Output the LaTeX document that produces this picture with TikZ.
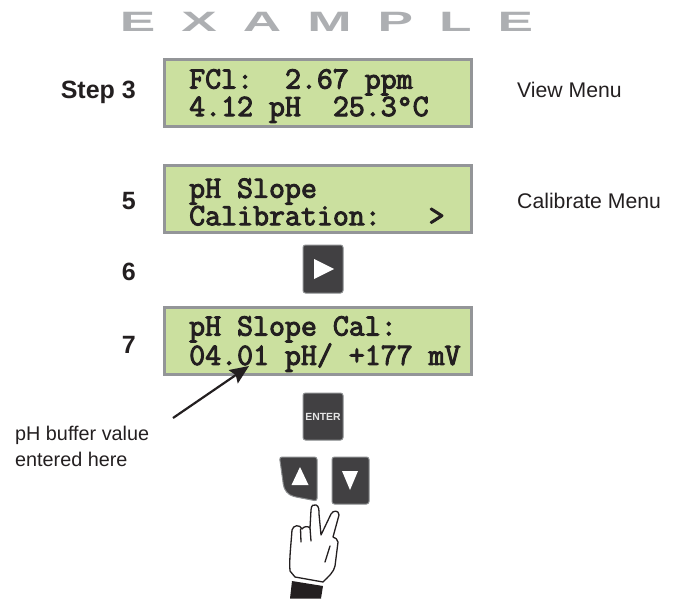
\documentclass[tikz,border=0pt]{standalone}
\usepackage{fontspec}
\setmainfont{Liberation Sans}
\setmonofont[FakeBold=3.2]{Latin Modern Mono}
\newfontfamily\examplefont[FakeStretch=1.9]{Liberation Sans Bold}
\usetikzlibrary{arrows.meta}
\definecolor{lcdgreen}{HTML}{CBE09F}
\definecolor{lcdedge}{HTML}{939598}
\definecolor{keyfill}{HTML}{414042}
\definecolor{keyedge}{HTML}{8A8C8E}
\definecolor{titlegray}{HTML}{ADAFB2}
\definecolor{inkblack}{HTML}{231F20}
\tikzset{
  lcdbox/.style={draw=lcdedge,fill=lcdgreen,line width=2.2pt,minimum width=307pt,minimum height=67pt,inner sep=0pt},
  lcdtext/.style={font=\fontsize{31pt}{27.5pt}\selectfont\ttfamily,text=inkblack,align=left,inner sep=0pt,anchor=west},
  stepnum/.style={font=\fontsize{25pt}{28pt}\selectfont\bfseries,text=inkblack,inner sep=0pt,anchor=base east},
  menulabel/.style={font=\fontsize{21.2pt}{25pt}\selectfont,text=inkblack,inner sep=0pt,anchor=base west},
  keyshape/.style={fill=keyfill,draw=keyedge,line width=1pt,rounded corners=2.5pt},
  keyglyph/.style={fill=white,draw=none},
  handline/.style={draw=inkblack,line width=1.3pt,line join=round,line cap=round}
}
\begin{document}
\begin{tikzpicture}[x=1pt,y=-1pt]
\useasboundingbox (0,0) rectangle (676,599);
\node[font=\fontsize{28pt}{30pt}\selectfont\examplefont,text=titlegray,inner sep=0pt,anchor=base] (title) at (326.5,32) {E\hspace{26pt}X\hspace{26pt}A\hspace{26pt}M\hspace{26pt}P\hspace{26pt}L\hspace{26pt}E};

\node[lcdbox] (lcd1) at (318,93) {};
\node[lcdbox] (lcd2) at (318,199) {};
\node[lcdbox] (lcd3) at (318,341) {};
\node[lcdtext] (t1) at (189,96) {FCl:\ \ 2.67 ppm\\4.12 pH\ \ 25.3°C};
\node[lcdtext] (t2) at (189,202) {pH Slope\\Calibration:\ \ \ >};
\node[lcdtext] (t3) at (189,344) {pH Slope Cal:\\04.01 pH/ +177 mV};

\node[stepnum] (s3) at (136,99) {Step 3};
\node[stepnum] (s5) at (136,209) {5};
\node[stepnum] (s6) at (136,280) {6};
\node[stepnum] (s7) at (136,353) {7};

\node[menulabel] (m1) at (517,97) {View Menu};
\node[menulabel] (m2) at (517,208) {Calibrate Menu};
\node[font=\fontsize{19.8pt}{25.5pt}\selectfont,text=inkblack,align=left,inner sep=0pt,anchor=north west] (buf) at (15,426) {pH buffer value\\entered here};

\coordinate (arrowfrom) at (173,418);
\coordinate (arrowto) at (249,366);
\draw[inkblack,line width=2.2pt,-{Stealth[length=19pt,width=16pt,inset=3pt]}] (arrowfrom) -- (arrowto);

% right-arrow key
\draw[keyshape] (303,245) rectangle (343,293);
\fill[keyglyph] (314,259) -- (334,269) -- (314,279) -- cycle;
% enter key
\node[keyshape,minimum width=40pt,minimum height=47pt,inner sep=0pt,text=white!90!black,font=\fontsize{10.4pt}{11pt}\selectfont\bfseries] (enter) at (323,416.5) {ENTER};
% up key
\draw[keyshape] (279.5,457) -- (317,457) -- (317,501) -- (296,497) .. controls (288,495) and (284,490) .. (283,482) -- cycle;
\fill[keyglyph] (300,467) -- (308.5,485) -- (291.5,485) -- cycle;
% down key
\draw[keyshape] (332,457) rectangle (369,504);
\fill[keyglyph] (342,471) -- (358,471) -- (350,490) -- cycle;

% hand
\fill[inkblack] (292,581) -- (323,586) -- (321,598.5) -- (290,598.5) -- cycle;
\draw[handline,fill=white] (290,571)
 .. controls (289,560) and (291,545) .. (292,530)
 .. controls (293,525) and (300,524) .. (302,529)
 .. controls (304,526) and (308,526) .. (310,528)
 -- (311,510)
 .. controls (311,505) and (314,504) .. (316,505)
 .. controls (319,506) and (319,510) .. (319,514)
 -- (321,535)
 -- (331,514)
 .. controls (333,510) and (339,510) .. (339,515)
 -- (333,537)
 .. controls (335,538) and (338,539) .. (338,542)
 -- (335,566)
 .. controls (334,572) and (328,577) .. (323,582)
 -- (295,577) -- cycle;
\draw[handline] (300.5,529) -- (301,542);
\draw[handline] (310,528) -- (311,541);
\draw[handline] (330,546) -- (325,562);
\end{tikzpicture}
\end{document}
